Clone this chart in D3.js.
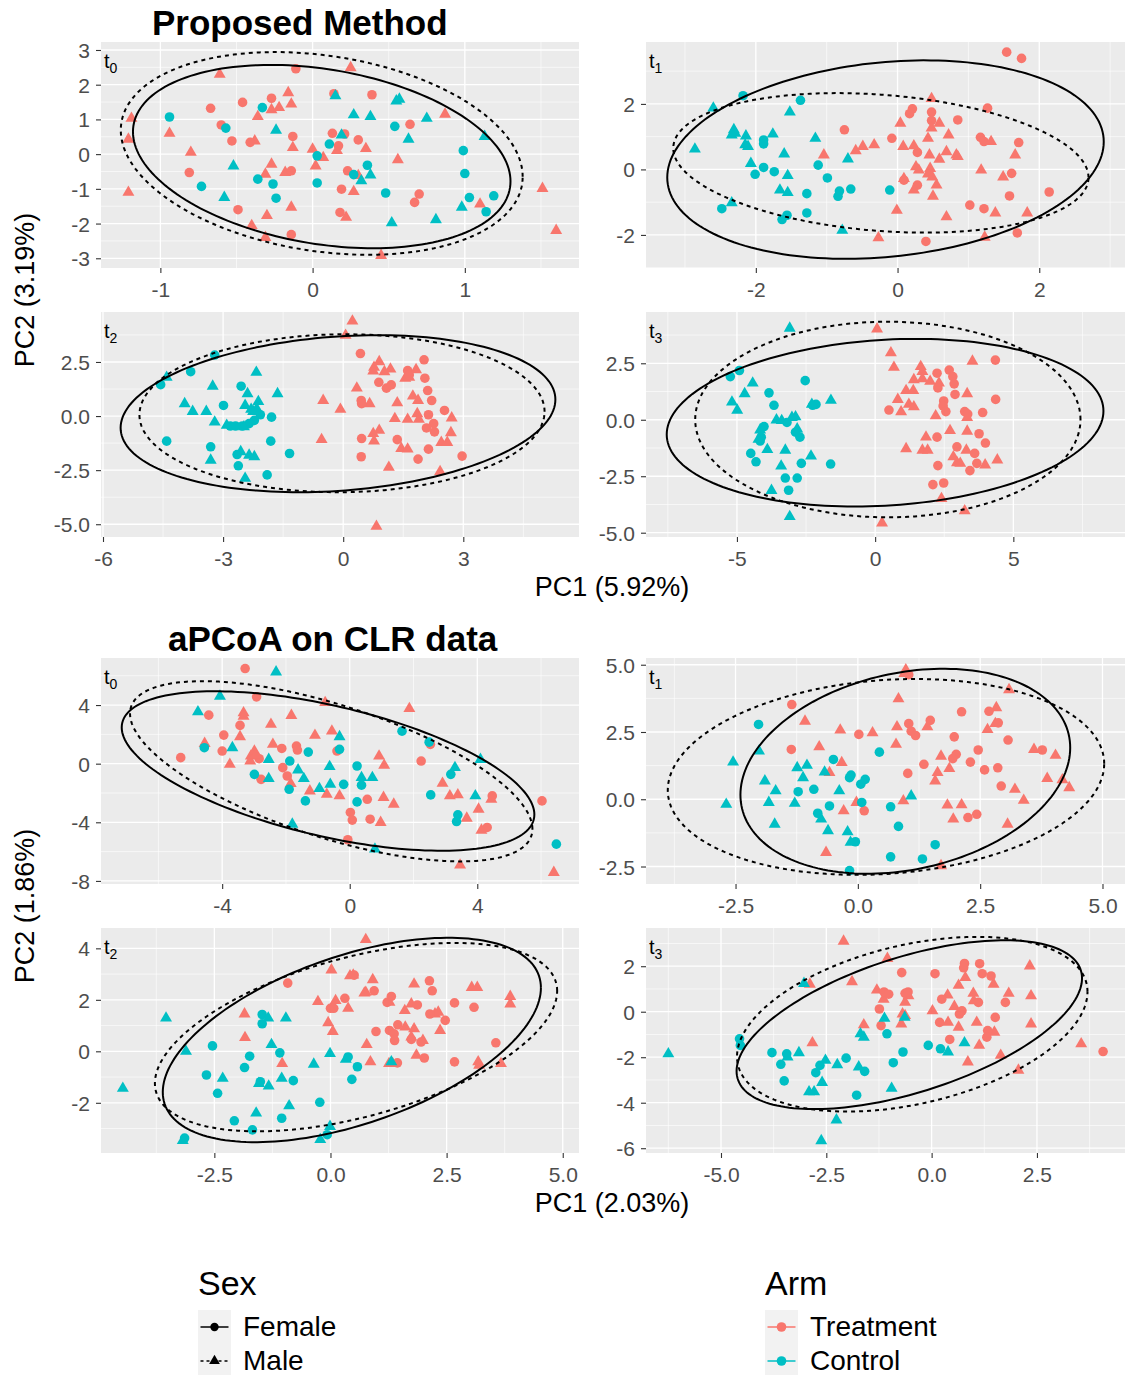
<!DOCTYPE html>
<html>
<head>
<meta charset="utf-8">
<script src="https://cdn.jsdelivr.net/npm/d3@7"></script>
<style>
  body { margin: 0; background: #fff; }
  text { font-family: "Liberation Sans", Arial, sans-serif; }
</style>
</head>
<body>
<svg id="chart" width="1127" height="1375"></svg>
<script>
/*************************************************************************/
// data: [PC1, PC2, group]  group = Arm (T/C) + Sex (F/M)

const pmT0 = [
  [0.25,2.49,'TM'],[-0.61,2.30,'TM'],[-1.19,1.03,'TM'],[-1.21,0.43,'TM'],[-1.21,-1.10,'TM'],[-0.94,0.60,'TM'],[-0.80,0.05,'TM'],
  [-0.36,1.08,'TM'],[-0.38,0.38,'TM'],[-0.27,1.28,'TM'],[-0.22,1.34,'TM'],[-0.16,1.77,'TM'],[-0.14,1.44,'TM'],[-0.13,0.19,'TM'],
  [-0.27,-0.29,'TM'],[-0.31,-0.58,'TM'],[-0.18,-0.53,'TM'],[0.02,-0.34,'TM'],[0.07,-0.10,'TM'],[0.00,0.14,'TM'],[0.16,0.10,'TM'],
  [0.35,0.16,'TM'],[0.27,-1.08,'TM'],[-0.14,-1.53,'TM'],[-0.30,-1.77,'TM'],[-0.40,-2.06,'TM'],[-0.31,-2.40,'TM'],[0.22,-1.82,'TM'],
  [0.45,-2.92,'TM'],[0.56,-0.16,'TM'],[0.87,1.15,'TM'],[1.10,-1.44,'TM'],[1.51,-0.99,'TM'],[1.60,-2.20,'TM'],[0.30,-0.62,'TM'],
  [-0.11,2.46,'TF'],[-0.67,1.32,'TF'],[-0.46,1.49,'TF'],[-0.27,1.61,'TF'],[-0.60,0.84,'TF'],[-0.53,0.38,'TF'],[-0.41,0.34,'TF'],
  [-0.13,0.51,'TF'],[0.14,1.74,'TF'],[0.39,1.71,'TF'],[0.13,0.60,'TF'],[0.21,0.58,'TF'],[0.17,0.24,'TF'],[0.30,0.41,'TF'],
  [0.64,0.86,'TF'],[-0.81,-0.53,'TF'],[-0.14,-0.48,'TF'],[0.23,-0.48,'TF'],[0.19,-1.01,'TF'],[0.70,-1.15,'TF'],[0.67,-1.39,'TF'],
  [-0.49,-1.60,'TF'],[0.18,-1.68,'TF'],[-0.14,-2.32,'TF'],
  [-0.94,1.07,'CF'],[-0.33,1.34,'CF'],[-0.57,0.75,'CF'],[-0.36,-0.72,'CF'],[-0.73,-0.93,'CF'],[-0.26,-0.86,'CF'],[-0.24,-1.27,'CF'],
  [0.03,-0.05,'CF'],[0.03,-0.83,'CF'],[0.11,0.29,'CF'],[0.27,-0.59,'CF'],[0.36,-0.32,'CF'],[0.54,0.80,'CF'],[0.48,-1.12,'CF'],
  [0.99,0.10,'CF'],[1.00,-0.56,'CF'],[1.03,-1.25,'CF'],[1.19,-1.20,'CF'],[1.14,-1.66,'CF'],
  [0.15,1.68,'CM'],[0.55,1.53,'CM'],[0.57,1.58,'CM'],[0.27,1.13,'CM'],[0.38,1.08,'CM'],[0.75,1.03,'CM'],[-0.24,0.69,'CM'],
  [0.19,0.55,'CM'],[0.63,0.43,'CM'],[1.13,0.51,'CM'],[-0.52,-0.34,'CM'],[0.38,-0.60,'CM'],[0.32,-0.77,'CM'],[-0.58,-1.25,'CM'],
  [0.98,-1.53,'CM'],[0.52,-1.98,'CM'],[0.81,-1.89,'CM']
];

const pmT1 = [
  [1.54,3.58,'TF'],[1.75,3.39,'TF'],[-0.75,1.21,'TF'],[-0.08,0.95,'TF'],[0.21,1.85,'TF'],[0.17,1.70,'TF'],[0.48,1.75,'TF'],
  [0.48,1.49,'TF'],[0.85,1.51,'TF'],[1.27,1.87,'TF'],[1.17,0.98,'TF'],[1.22,0.85,'TF'],[1.71,0.82,'TF'],[0.28,0.52,'TF'],
  [1.61,-0.12,'TF'],[0.28,-0.48,'TF'],[0.09,-0.33,'TF'],[1.58,-0.81,'TF'],[1.02,-1.09,'TF'],[1.22,-1.20,'TF'],[2.14,-0.69,'TF'],
  [1.69,-1.94,'TF'],[0.40,-2.20,'TF'],
  [0.48,2.16,'TM'],[0.04,1.41,'TM'],[0.59,1.41,'TM'],[0.48,1.26,'TM'],[0.43,0.95,'TM'],[0.72,1.05,'TM'],[-1.04,0.44,'TM'],
  [-0.59,0.57,'TM'],[-0.49,0.70,'TM'],[-0.33,0.75,'TM'],[0.08,0.70,'TM'],[0.23,0.72,'TM'],[0.45,0.44,'TM'],[0.59,0.31,'TM'],
  [0.69,0.54,'TM'],[0.83,0.44,'TM'],[0.85,0.39,'TM'],[0.26,0.08,'TM'],[0.30,-0.02,'TM'],[0.46,0.03,'TM'],[0.43,-0.14,'TM'],
  [0.49,-0.23,'TM'],[0.09,-0.28,'TM'],[0.55,-0.48,'TM'],[0.23,-0.63,'TM'],[0.50,-0.82,'TM'],[-0.01,-1.25,'TM'],[0.69,-1.45,'TM'],
  [1.18,-0.02,'TM'],[1.49,-0.23,'TM'],[1.66,0.44,'TM'],[1.32,0.85,'TM'],[1.38,-1.33,'TM'],[1.83,-1.33,'TM'],[-0.27,-2.09,'TM'],
  [1.23,-2.07,'TM'],
  [-2.18,2.25,'CF'],[-1.37,2.11,'CF'],[-1.89,0.90,'CF'],[-1.89,0.78,'CF'],[-1.89,0.06,'CF'],[-2.01,-0.15,'CF'],[-1.74,-0.07,'CF'],
  [-1.12,0.13,'CF'],[-0.99,-0.26,'CF'],[-0.66,-0.60,'CF'],[-0.82,-0.66,'CF'],[-0.84,-0.82,'CF'],[-1.28,-0.74,'CF'],[-1.28,-1.33,'CF'],
  [-1.56,-1.40,'CF'],[-1.63,-1.53,'CF'],[-2.48,-1.20,'CF'],[-0.11,-0.63,'CF'],
  [-2.60,1.87,'CM'],[-2.86,0.62,'CM'],[-2.31,1.21,'CM'],[-2.29,1.10,'CM'],[-2.34,1.05,'CM'],[-2.14,1.02,'CM'],[-2.15,0.75,'CM'],
  [-2.11,0.70,'CM'],[-1.76,1.08,'CM'],[-1.52,1.75,'CM'],[-1.16,0.95,'CM'],[-1.60,0.47,'CM'],[-2.07,0.18,'CM'],[-0.70,0.32,'CM'],
  [-1.55,-0.19,'CM'],[-1.66,-0.63,'CM'],[-1.55,-0.71,'CM'],[-2.34,-1.02,'CM'],[-0.78,-1.86,'CM']
];

const pmT2 = [
  [-3.21,2.82,'CF'],[-3.81,2.05,'CF'],[-4.56,1.45,'CF'],[-4.41,-1.16,'CF'],[-2.99,0.49,'CF'],[-2.55,1.38,'CF'],[-3.31,-1.42,'CF'],
  [-1.79,-0.05,'CF'],[-1.81,-1.16,'CF'],[-1.34,-1.73,'CF'],[-2.65,-1.78,'CF'],[-2.62,-2.30,'CF'],[-1.90,-2.72,'CF'],[-2.07,0.06,'CF'],
  [-2.22,-0.20,'CF'],[-2.35,-0.35,'CF'],[-2.52,-0.46,'CF'],[-2.69,-0.46,'CF'],[-2.82,-0.46,'CF'],
  [-4.41,1.79,'CM'],[-3.96,0.57,'CM'],[-3.76,0.21,'CM'],[-3.42,0.21,'CM'],[-3.26,1.38,'CM'],[-3.21,-0.28,'CM'],[-2.91,-0.43,'CM'],
  [-2.48,-0.50,'CM'],[-2.45,0.49,'CM'],[-2.39,1.03,'CM'],[-2.17,2.02,'CM'],[-2.16,0.34,'CM'],[-2.12,0.67,'CM'],[-2.30,0.31,'CM'],
  [-1.64,1.03,'CM'],[-3.31,-2.04,'CM'],[-2.56,-1.65,'CM'],[-2.35,-1.81,'CM'],[-2.22,-1.88,'CM'],[-2.45,-2.88,'CM'],[-2.25,0.21,'CM'],
  [0.23,4.39,'TM'],[0.06,3.73,'TM'],[-0.50,0.72,'TM'],[-0.07,0.31,'TM'],[-0.54,-1.09,'TM'],[0.34,1.29,'TM'],[0.77,2.25,'TM'],
  [0.90,2.51,'TM'],[0.75,2.08,'TM'],[1.18,2.17,'TM'],[1.03,2.05,'TM'],[0.66,0.57,'TM'],[1.35,0.61,'TM'],[1.29,-0.12,'TM'],
  [0.90,-0.66,'TM'],[0.75,-0.81,'TM'],[0.77,-1.16,'TM'],[1.45,-1.50,'TM'],[1.61,-1.53,'TM'],[1.61,-0.15,'TM'],[1.74,0.92,'TM'],
  [1.87,0.72,'TM'],[1.55,1.75,'TM'],[1.65,1.79,'TM'],[1.82,2.14,'TM'],[1.85,0.11,'TM'],[1.89,-0.15,'TM'],[1.14,-2.37,'TM'],
  [2.45,-1.22,'TM'],[2.60,-1.22,'TM'],[2.69,-0.77,'TM'],[2.71,-0.09,'TM'],[2.42,-2.57,'TM'],[0.83,-5.10,'TM'],
  [0.43,2.89,'TF'],[0.45,0.72,'TF'],[0.46,0.57,'TF'],[0.89,1.56,'TF'],[1.08,1.29,'TF'],[1.20,1.44,'TF'],[1.61,2.10,'TF'],
  [1.65,1.90,'TF'],[2.02,2.60,'TF'],[2.04,1.75,'TF'],[2.11,1.18,'TF'],[2.21,0.72,'TF'],[2.13,0.06,'TF'],[2.26,-0.35,'TF'],
  [2.28,-0.73,'TF'],[2.08,-0.55,'TF'],[2.53,0.26,'TF'],[1.35,-1.09,'TF'],[2.13,-1.53,'TF'],[1.87,-1.99,'TF'],[0.46,-1.04,'TF'],
  [0.45,-1.88,'TF'],[2.97,-1.85,'TF']
];

const pmT3 = [
  [-5.24,1.91,'CF'],[-4.91,2.18,'CF'],[-3.84,1.19,'CF'],[-3.66,0.64,'CF'],[-2.53,1.73,'CF'],[-2.14,0.68,'CF'],[-2.26,0.64,'CF'],
  [-4.02,-0.30,'CF'],[-4.12,-0.77,'CF'],[-4.16,-0.94,'CF'],[-4.50,-1.49,'CF'],[-4.31,-1.86,'CF'],[-3.19,-0.12,'CF'],[-2.88,-0.55,'CF'],
  [-2.72,-0.77,'CF'],[-2.67,-1.93,'CF'],[-3.25,-2.58,'CF'],[-2.82,-2.58,'CF'],[-3.13,-3.12,'CF'],[-1.61,-1.96,'CF'],
  [-3.09,4.05,'CM'],[-4.43,1.62,'CM'],[-4.72,1.15,'CM'],[-5.18,0.78,'CM'],[-4.99,0.42,'CM'],[-3.57,-0.01,'CM'],[-3.38,-0.04,'CM'],
  [-3.01,0.10,'CM'],[-2.88,0.13,'CM'],[-4.16,-0.45,'CM'],[-4.22,-0.87,'CM'],[-3.90,-1.32,'CM'],[-3.25,-1.35,'CM'],[-2.82,-0.41,'CM'],
  [-2.32,-1.61,'CM'],[-3.40,-2.05,'CM'],[-3.75,-3.13,'CM'],[-3.09,-4.29,'CM'],[-1.60,0.86,'CM'],[-2.29,0.68,'CM'],
  [0.07,4.02,'TM'],[0.57,2.96,'TM'],[0.68,2.32,'TM'],[1.65,2.35,'TM'],[1.71,2.13,'TM'],[1.40,1.77,'TM'],[1.71,1.81,'TM'],
  [1.99,1.70,'TM'],[2.31,1.62,'TM'],[1.12,1.29,'TM'],[1.38,1.29,'TM'],[0.82,0.90,'TM'],[1.22,0.68,'TM'],[1.40,0.57,'TM'],
  [0.94,0.35,'TM'],[2.19,0.17,'TM'],[3.33,1.15,'TM'],[3.52,2.59,'TM'],[3.33,0.10,'TM'],[2.71,-0.48,'TM'],[3.33,-0.51,'TM'],
  [1.84,-0.77,'TM'],[1.71,-1.35,'TM'],[1.90,-1.35,'TM'],[1.12,-1.28,'TM'],[3.30,-1.35,'TM'],[2.83,-1.64,'TM'],[2.96,-1.90,'TM'],
  [3.08,-1.93,'TM'],[3.98,-2.00,'TM'],[4.42,-1.78,'TM'],[2.40,-3.49,'TM'],[3.24,-4.03,'TM'],[0.25,-4.57,'TM'],
  [2.68,2.20,'TF'],[2.81,1.91,'TF'],[2.86,1.59,'TF'],[2.24,2.06,'TF'],[2.27,1.41,'TF'],[4.35,2.64,'TF'],[4.36,0.90,'TF'],
  [2.89,1.12,'TF'],[2.48,0.83,'TF'],[2.46,0.61,'TF'],[2.56,0.36,'TF'],[3.24,0.36,'TF'],[3.35,0.25,'TF'],[3.89,0.32,'TF'],
  [0.50,0.43,'TF'],[2.24,-0.77,'TF'],[2.96,-1.20,'TF'],[3.76,-0.62,'TF'],[3.99,-1.03,'TF'],[3.60,-1.49,'TF'],[3.68,-1.93,'TF'],
  [3.43,-2.25,'TF'],[2.27,-2.03,'TF'],[2.09,-2.87,'TF'],[2.48,-2.80,'TF']
];

const clrT0 = [
  [-3.28,6.49,'TF'],[-2.92,4.56,'TF'],[-4.42,3.31,'TF'],[-5.30,0.41,'TF'],[-3.95,1.95,'TF'],[-4.00,0.86,'TF'],[-3.44,2.61,'TF'],
  [-2.84,0.34,'TF'],[-2.78,-1.07,'TF'],[-2.13,1.04,'TF'],[-2.10,-0.27,'TF'],[-1.67,1.20,'TF'],[-1.64,0.93,'TF'],[-1.96,-0.84,'TF'],
  [-0.40,0.86,'TF'],[0.02,-3.33,'TF'],[0.08,-3.85,'TF'],[-0.06,-5.19,'TF'],[0.55,-2.43,'TF'],[0.64,-3.79,'TF'],[2.24,0.18,'TF'],
  [2.53,1.32,'TF'],[4.47,-2.20,'TF'],[4.31,-4.35,'TF'],[6.03,-2.54,'TF'],
  [-0.77,4.17,'TM'],[1.87,3.76,'TM'],[-3.33,3.47,'TM'],[-3.33,3.24,'TM'],[-4.55,1.38,'TM'],[-3.44,1.84,'TM'],[-2.47,2.68,'TM'],
  [-1.83,3.29,'TM'],[-2.41,1.32,'TM'],[-3.76,-0.05,'TM'],[-3.10,0.52,'TM'],[-2.99,0.86,'TM'],[-3.12,0.18,'TM'],[-2.96,0.57,'TM'],
  [-1.09,1.93,'TM'],[-0.56,2.22,'TM'],[-1.85,-1.36,'TM'],[-1.25,-1.86,'TM'],[-0.72,-2.09,'TM'],[-0.32,-2.20,'TM'],[0.92,0.52,'TM'],
  [1.08,-0.11,'TM'],[1.06,-2.31,'TM'],[1.38,-2.77,'TM'],[0.97,-4.01,'TM'],[2.91,-1.34,'TM'],[3.14,-2.20,'TM'],[3.39,-2.13,'TM'],
  [3.67,-3.72,'TM'],[4.04,-3.11,'TM'],[4.13,-4.54,'TM'],[4.44,-2.43,'TM'],[3.46,-6.92,'TM'],[6.40,-7.42,'TM'],
  [-4.56,1.09,'CF'],[-2.99,-0.73,'CF'],[-1.88,0.18,'CF'],[-1.90,-1.75,'CF'],[-1.30,0.79,'CF'],[-1.39,-2.54,'CF'],[-0.32,0.98,'CF'],
  [0.23,-0.16,'CF'],[-0.19,-1.41,'CF'],[0.37,-1.47,'CF'],[0.23,-2.61,'CF'],[1.64,2.22,'CF'],[2.49,1.47,'CF'],[2.54,-2.13,'CF'],
  [3.17,-0.73,'CF'],[3.39,-3.49,'CF'],[3.35,-3.95,'CF'],[6.48,-5.49,'CF'],
  [-2.31,6.26,'CM'],[-4.07,4.60,'CM'],[-4.76,3.54,'CM'],[-3.68,1.09,'CM'],[-2.54,0.29,'CM'],[-2.54,-1.02,'CM'],[-1.62,-0.43,'CM'],
  [-1.44,-1.02,'CM'],[-0.95,-1.70,'CM'],[-0.63,-0.20,'CM'],[-0.61,-1.41,'CM'],[-0.32,1.84,'CM'],[0.37,-0.95,'CM'],[0.71,-0.95,'CM'],
  [3.30,-0.27,'CM'],[4.10,0.29,'CM'],[3.94,-2.20,'CM'],[-1.80,-4.13,'CM'],[0.79,-5.83,'CM']
];

const clrT1 = [
  [0.98,4.81,'TM'],[0.95,4.67,'TM'],[3.09,4.07,'TM'],[0.83,3.73,'TM'],[-1.08,2.90,'TM'],[-0.36,2.57,'TM'],[0.30,2.47,'TM'],
  [0.80,2.69,'TM'],[-0.79,1.95,'TM'],[0.78,2.04,'TM'],[1.42,2.69,'TM'],[2.83,3.40,'TM'],[2.65,2.59,'TM'],[2.81,2.81,'TM'],
  [-0.33,1.36,'TM'],[-0.58,0.99,'TM'],[1.70,1.60,'TM'],[1.87,1.14,'TM'],[1.63,0.99,'TM'],[1.58,0.68,'TM'],[3.60,1.85,'TM'],
  [4.04,1.63,'TM'],[3.87,0.77,'TM'],[4.18,0.72,'TM'],[4.32,0.43,'TM'],[3.21,0.37,'TM'],[3.39,-0.04,'TM'],[0.93,-0.06,'TM'],
  [-0.03,-0.12,'TM'],[-0.29,-0.43,'TM'],[1.83,-0.22,'TM'],[2.12,-0.21,'TM'],[1.95,-0.74,'TM'],[3.06,-0.93,'TM'],[-0.65,-1.98,'TM'],
  [1.70,-2.47,'TM'],
  [1.04,4.63,'TF'],[-1.35,3.52,'TF'],[-1.36,1.85,'TF'],[0.02,2.41,'TF'],[1.04,2.81,'TF'],[1.09,2.53,'TF'],[1.18,2.37,'TF'],
  [1.48,2.93,'TF'],[2.12,3.25,'TF'],[2.68,3.27,'TF'],[2.87,2.84,'TF'],[1.97,2.32,'TF'],[3.07,2.20,'TF'],[2.46,1.83,'TF'],
  [2.01,1.67,'TF'],[1.94,1.51,'TF'],[1.35,1.30,'TF'],[2.30,1.38,'TF'],[2.59,1.09,'TF'],[2.86,1.17,'TF'],[1.02,0.96,'TF'],
  [3.77,1.83,'TF'],[2.93,0.49,'TF'],[2.25,-0.68,'TF'],[2.43,-0.56,'TF'],[0.13,-0.43,'TF'],
  [-2.03,2.78,'CF'],[0.44,1.75,'CF'],[-0.50,1.48,'CF'],[-0.90,0.37,'CF'],[-1.22,0.28,'CF'],[-0.14,0.90,'CF'],[-0.17,0.80,'CF'],
  [0.15,0.74,'CF'],[0.06,0.56,'CF'],[-0.58,-0.25,'CF'],[-0.82,-0.52,'CF'],[0.08,-0.12,'CF'],[0.67,-0.28,'CF'],[0.83,-1.01,'CF'],
  [-0.05,-1.58,'CF'],[1.58,-1.69,'CF'],[0.67,-2.14,'CF'],[1.32,-2.22,'CF'],[-0.17,-2.65,'CF'],
  [-2.55,1.38,'CM'],[-2.02,1.79,'CM'],[-2.69,-0.19,'CM'],[-1.90,0.68,'CM'],[-1.68,0.31,'CM'],[-1.82,-0.12,'CM'],[-1.70,-0.93,'CM'],
  [-1.24,1.17,'CM'],[-1.04,1.26,'CM'],[-1.12,0.80,'CM'],[-1.29,-0.15,'CM'],[-0.68,1.01,'CM'],[-0.38,0.31,'CM'],[-0.75,-0.74,'CM'],
  [-0.61,-1.17,'CM'],[-0.21,-1.21,'CM'],[-0.15,-1.60,'CM'],[1.09,0.12,'CM']
];

const clrT2 = [
  [0.76,4.34,'TM'],[0.02,3.16,'TM'],[0.42,2.93,'TM'],[0.49,2.96,'TM'],[0.91,2.78,'TM'],[0.73,2.26,'TM'],[0.76,2.29,'TM'],
  [0.11,1.97,'TM'],[-0.27,1.93,'TM'],[0.38,1.67,'TM'],[-1.85,1.45,'TM'],[-1.84,0.53,'TM'],[-0.05,1.11,'TM'],[0.05,0.77,'TM'],
  [-1.04,-0.48,'TM'],[0.78,0.26,'TM'],[0.86,-0.41,'TM'],[1.26,-0.48,'TM'],[1.27,1.90,'TM'],[1.80,2.61,'TM'],[1.74,1.84,'TM'],
  [1.60,1.58,'TM'],[1.61,0.94,'TM'],[1.80,0.87,'TM'],[1.74,0.55,'TM'],[1.99,0.42,'TM'],[1.85,-0.15,'TM'],[2.25,1.45,'TM'],
  [2.32,1.52,'TM'],[2.36,0.81,'TM'],[3.04,2.48,'TM'],[3.16,2.48,'TM'],[3.87,2.13,'TM'],[3.87,1.84,'TM'],[3.18,-0.41,'TM'],
  [3.20,-0.54,'TM'],[3.67,-0.48,'TM'],[1.34,-0.48,'TM'],
  [-0.92,2.65,'TF'],[0.51,2.96,'TF'],[0.31,2.06,'TF'],[0.00,1.67,'TF'],[0.07,1.67,'TF'],[0.94,2.35,'TF'],[1.22,1.90,'TF'],
  [1.31,2.13,'TF'],[1.45,1.03,'TF'],[1.27,0.81,'TF'],[1.37,0.68,'TF'],[1.38,0.42,'TF'],[0.98,0.77,'TF'],[1.74,0.46,'TF'],
  [1.95,0.36,'TF'],[2.02,-0.26,'TF'],[2.13,2.74,'TF'],[2.19,2.35,'TF'],[2.14,1.45,'TF'],[2.47,1.20,'TF'],[2.67,1.88,'TF'],
  [3.09,1.71,'TF'],[2.67,-0.41,'TF'],[3.56,0.33,'TF'],[1.44,-0.45,'TF'],[1.87,1.80,'TF'],
  [-1.47,1.43,'CF'],[-1.47,1.07,'CF'],[-2.54,0.21,'CF'],[-1.74,-0.19,'CF'],[-1.85,-0.63,'CF'],[-1.09,-0.06,'CF'],[-2.67,-0.92,'CF'],
  [-2.43,-1.63,'CF'],[-1.51,-1.18,'CF'],[-0.80,-1.14,'CF'],[-0.23,-1.98,'CF'],[-1.05,-2.60,'CF'],[-2.07,-2.70,'CF'],[-1.68,-3.05,'CF'],
  [-3.14,-3.37,'CF'],[0.38,-0.22,'CF'],[0.58,-0.60,'CF'],[0.46,-1.09,'CF'],[-0.07,-3.24,'CF'],
  [-3.54,1.29,'CM'],[-3.11,0.00,'CM'],[-4.47,-1.44,'CM'],[-1.34,1.29,'CM'],[-0.96,1.29,'CM'],[-1.27,0.26,'CM'],[-2.32,-1.05,'CM'],
  [-1.54,-1.25,'CM'],[-1.33,-1.35,'CM'],[-1.05,-1.05,'CM'],[-0.36,-0.50,'CM'],[-0.01,-0.09,'CM'],[0.33,-0.31,'CM'],[1.31,-0.41,'CM'],
  [-0.89,-2.12,'CM'],[-1.60,-2.40,'CM'],[-0.01,-2.92,'CM'],[-0.22,-3.43,'CM'],[-3.18,-3.47,'CM']
];

const clrT3 = [
  [-2.09,3.10,'TM'],[-1.05,2.34,'TM'],[-1.89,1.32,'TM'],[-2.89,1.21,'TM'],[-1.30,0.95,'TM'],[-1.14,0.55,'TM'],[-0.55,0.70,'TM'],
  [-0.63,0.41,'TM'],[-0.69,-0.10,'TM'],[-0.63,-0.17,'TM'],[-0.72,-0.54,'TM'],[-1.61,-0.58,'TM'],[-2.83,-1.37,'TM'],[0.02,0.04,'TM'],
  [0.38,0.73,'TM'],[0.54,0.23,'TM'],[0.64,1.16,'TM'],[0.80,1.50,'TM'],[0.99,0.81,'TM'],[1.00,0.48,'TM'],[0.64,-0.68,'TM'],
  [0.39,-0.47,'TM'],[1.07,-0.47,'TM'],[1.13,-1.48,'TM'],[0.86,-2.21,'TM'],[1.47,1.21,'TM'],[1.49,-0.90,'TM'],[1.64,-1.92,'TM'],
  [1.83,0.81,'TM'],[2.33,2.01,'TM'],[2.36,0.70,'TM'],[2.36,-0.54,'TM'],[2.06,-2.57,'TM'],[3.55,-1.41,'TM'],
  [-0.71,1.72,'TF'],[-1.13,0.87,'TF'],[-1.02,0.77,'TF'],[-1.24,0.12,'TF'],[-1.20,-0.61,'TF'],[-0.63,0.81,'TF'],[-0.56,0.87,'TF'],
  [0.08,1.67,'TF'],[0.78,2.12,'TF'],[0.76,1.93,'TF'],[1.14,2.11,'TF'],[1.20,1.67,'TF'],[1.41,1.57,'TF'],[0.24,0.55,'TF'],
  [0.19,-0.47,'TF'],[0.72,0.04,'TF'],[0.66,-0.10,'TF'],[1.11,0.41,'TF'],[1.75,0.41,'TF'],[1.51,-0.25,'TF'],[1.33,-0.83,'TF'],
  [1.31,-1.12,'TF'],[0.43,-1.22,'TF'],[4.07,-1.75,'TF'],
  [-4.56,-1.19,'CF'],[-4.54,-1.48,'CF'],[-3.79,-1.80,'CF'],[-3.58,-2.31,'CF'],[-3.44,-1.85,'CF'],[-3.50,-3.04,'CF'],[-2.75,-2.68,'CF'],
  [-2.65,-2.36,'CF'],[-2.03,-2.04,'CF'],[-1.78,-3.67,'CF'],[-1.59,-2.62,'CF'],[-1.06,-0.97,'CF'],[-0.91,-2.24,'CF'],[-0.68,-1.77,'CF'],
  [-0.08,-1.48,'CF'],[0.21,-1.63,'CF'],
  [-6.25,-1.85,'CM'],[-3.03,1.24,'CM'],[-3.42,-1.99,'CM'],[-3.15,-1.80,'CM'],[-2.52,-2.14,'CM'],[-2.91,-3.52,'CM'],[-2.79,-3.52,'CM'],
  [-2.60,-3.11,'CM'],[-2.24,-2.33,'CM'],[-2.26,-4.76,'CM'],[-2.62,-5.67,'CM'],[-1.73,-2.43,'CM'],[-1.69,-0.97,'CM'],[-1.61,-1.12,'CM'],
  [-1.12,-0.29,'CM'],[-0.95,-3.37,'CM'],[-0.64,-0.25,'CM'],[0.39,-1.77,'CM'],[0.78,-1.37,'CM']
];

// ellipses by Sex: [centre x, centre y, half-width x, half-height y, correlation]
const pmEllF  = [[0.06,-0.07,1.24,2.64,-0.27],[-0.17,0.30,3.08,3.03,0.18],[-0.13,0.11,5.43,3.63,0.18],[0.36,-0.13,7.90,3.71,0.14]];
const pmEllM  = [[0.06,0.02,1.32,2.92,-0.23],[-0.235,0.20,2.93,2.13,-0.21],[-0.03,0.13,5.06,3.65,0.02],[0.46,0.01,6.97,4.33,0.0]];
const clrEllF = [[-0.68,-0.50,6.47,5.44,-0.546],[0.97,1.04,3.37,3.81,0.23],[0.46,0.44,4.07,3.97,0.51],[-0.53,-0.57,4.10,3.71,0.55]];
const clrEllM = [[-0.58,-0.52,6.31,6.15,-0.64],[0.575,0.83,4.46,3.64,0.135],[0.55,0.55,4.33,3.66,0.49],[-0.46,-0.55,4.16,3.84,0.37]];

// axis limits and ticks
const pmXDom  = [[-1.39,1.75],[-3.55,3.21],[-6.05,5.89],[-8.29,9.04]];
const pmYDom  = [[-3.28,3.23],[-3.01,3.89],[-5.59,4.81],[-5.19,4.77]];
const clrXDom = [[-7.8,7.19],[-4.33,5.46],[-4.94,5.35],[-6.78,4.59]];
const clrYDom = [[-8.21,7.21],[-3.15,5.25],[-3.95,4.79],[-6.21,3.68]];

const pmXTicks  = [['-1','0','1'],['-2','0','2'],['-6','-3','0','3'],['-5','0','5']];
const pmYTicks  = [['-3','-2','-1','0','1','2','3'],['-2','0','2'],['-5.0','-2.5','0.0','2.5'],['-5.0','-2.5','0.0','2.5']];
const clrXTicks = [['-4','0','4'],['-2.5','0.0','2.5','5.0'],['-2.5','0.0','2.5','5.0'],['-5.0','-2.5','0.0','2.5']];
const clrYTicks = [['-8','-4','0','4'],['-2.5','0.0','2.5','5.0'],['-2','0','2','4'],['-6','-4','-2','0','2']];

const timeLabels = ['0','1','2','3'];
const sexLevels = ['Female','Male'];
const armLevels = ['Treatment','Control'];

/*************************************************************************/

const svg = d3.select('#chart');
const armColor = { T: '#F8766D', C: '#00BFC4' };
const cols = [[101,579],[646,1125]];
let clipId = 0;

function minorBreaks(major, dom){
    const step = major[1] - major[0];
    const out = [major[0] - step/2].concat(major.map(d => d + step/2));
    return out.filter(d => d > dom[0] && d < dom[1]);
}

function ellipsePoints(e){
    const [cx, cy, hx, hy, r] = e;
    return d3.range(0, 2*Math.PI + 0.001, Math.PI/90).map(t => [
        cx + hx*Math.cos(t),
        cy + hy*(r*Math.cos(t) + Math.sqrt(1 - r*r)*Math.sin(t))
    ]);
}

function drawPanel(box, pts, xdom, ydom, xt, yt, ellF, ellM, tlab){
    const [x0, x1, y0, y1] = box;
    const x = d3.scaleLinear().domain(xdom).range([x0, x1]);
    const y = d3.scaleLinear().domain(ydom).range([y1, y0]);
    const xv = xt.map(Number), yv = yt.map(Number);
    const g = svg.append('g');

    g.append('rect')
        .attr('x', x0).attr('y', y0).attr('width', x1 - x0).attr('height', y1 - y0)
        .attr('fill', '#EBEBEB');

    // grid
    g.selectAll('.vmin').data(minorBreaks(xv, xdom)).enter().append('line')
        .attr('x1', d => x(d)).attr('x2', d => x(d)).attr('y1', y0).attr('y2', y1)
        .attr('stroke', '#fff').attr('stroke-width', 0.6);
    g.selectAll('.hmin').data(minorBreaks(yv, ydom)).enter().append('line')
        .attr('y1', d => y(d)).attr('y2', d => y(d)).attr('x1', x0).attr('x2', x1)
        .attr('stroke', '#fff').attr('stroke-width', 0.6);
    g.selectAll('.vmaj').data(xv).enter().append('line')
        .attr('x1', d => x(d)).attr('x2', d => x(d)).attr('y1', y0).attr('y2', y1)
        .attr('stroke', '#fff').attr('stroke-width', 1.3);
    g.selectAll('.hmaj').data(yv).enter().append('line')
        .attr('y1', d => y(d)).attr('y2', d => y(d)).attr('x1', x0).attr('x2', x1)
        .attr('stroke', '#fff').attr('stroke-width', 1.3);

    // axes
    const ax = g.append('g').attr('transform', `translate(0,${y1})`)
        .call(d3.axisBottom(x).tickValues(xv).tickFormat((d, i) => xt[i]).tickSize(5).tickPadding(9));
    const ay = g.append('g').attr('transform', `translate(${x0},0)`)
        .call(d3.axisLeft(y).tickValues(yv).tickFormat((d, i) => yt[i]).tickSize(5).tickPadding(6));
    [ax, ay].forEach(a => {
        a.select('.domain').remove();
        a.selectAll('line').attr('stroke', '#333333').attr('stroke-width', 1.1);
        a.selectAll('text').attr('fill', '#4D4D4D').style('font-size', '21px')
            .style('font-family', '"Liberation Sans", Arial, sans-serif');
    });
    ay.selectAll('text').attr('dy', '0.36em');

    // clip
    const id = 'clip' + (clipId++);
    g.append('clipPath').attr('id', id).append('rect')
        .attr('x', x0).attr('y', y0).attr('width', x1 - x0).attr('height', y1 - y0);
    const inner = g.append('g').attr('clip-path', `url(#${id})`);

    // points
    const tri = d3.symbol().type(d3.symbolTriangle).size(62);
    inner.selectAll('.pt').data(pts).enter()
        .each(function(d){
            const sel = d3.select(this);
            const col = armColor[d[2][0]];
            if (d[2][1] === 'F'){
                sel.append('circle').attr('cx', x(d[0])).attr('cy', y(d[1])).attr('r', 4.8).attr('fill', col);
            } else {
                sel.append('path').attr('d', tri()).attr('fill', col)
                    .attr('transform', `translate(${x(d[0])},${y(d[1])})`);
            }
        });

    // ellipses
    const line = d3.line().x(d => x(d[0])).y(d => y(d[1]));
    inner.append('path').attr('d', line(ellipsePoints(ellF)))
        .attr('fill', 'none').attr('stroke', '#000').attr('stroke-width', 2);
    inner.append('path').attr('d', line(ellipsePoints(ellM)))
        .attr('fill', 'none').attr('stroke', '#000').attr('stroke-width', 2)
        .attr('stroke-dasharray', '4 4');

    // time label
    const t = g.append('text').attr('x', x0 + 3).attr('y', y0 + 26)
        .attr('fill', '#000').style('font-size', '20px').text('t');
    t.append('tspan').attr('dy', 5).style('font-size', '14px').text(tlab);
}

function drawFigure(offset, title, titleX, data, ells, doms, ticks, xlab, ylab){
    const rows = [[42 + offset, 268 + offset], [312 + offset, 537 + offset]];
    data.forEach((pts, i) => {
        const c = cols[i % 2], r = rows[Math.floor(i / 2)];
        drawPanel([c[0], c[1], r[0], r[1]], pts, doms[0][i], doms[1][i], ticks[0][i], ticks[1][i],
                  ells[0][i], ells[1][i], timeLabels[i]);
    });
    svg.append('text').attr('x', titleX).attr('y', 35 + offset)
        .style('font-size', '35px').style('font-weight', 'bold').attr('fill', '#000').text(title);
    svg.append('text').attr('x', 612).attr('y', 596 + offset).attr('text-anchor', 'middle')
        .style('font-size', '27px').attr('fill', '#000').text(xlab);
    svg.append('text').attr('transform', `translate(34,${290 + offset}) rotate(-90)`)
        .attr('text-anchor', 'middle').style('font-size', '27px').attr('fill', '#000').text(ylab);
}

drawFigure(0, 'Proposed Method', 152, [pmT0, pmT1, pmT2, pmT3], [pmEllF, pmEllM],
           [pmXDom, pmYDom], [pmXTicks, pmYTicks], 'PC1 (5.92%)', 'PC2 (3.19%)');
drawFigure(616, 'aPCoA on CLR data', 168, [clrT0, clrT1, clrT2, clrT3], [clrEllF, clrEllM],
           [clrXDom, clrYDom], [clrXTicks, clrYTicks], 'PC1 (2.03%)', 'PC2 (1.86%)');

/*************************************************************************/
// legends

function drawLegend(x, title, levels, keyFn){
    const lg = svg.append('g');
    lg.append('text').attr('x', x).attr('y', 1295).style('font-size', '34px').attr('fill', '#000').text(title);
    lg.append('rect').attr('x', x).attr('y', 1310).attr('width', 33).attr('height', 68).attr('fill', '#F2F2F2');
    levels.forEach((lab, i) => {
        const cy = 1327 + i*34;
        keyFn(lg, x + 16.5, cy, i);
        lg.append('text').attr('x', x + 45).attr('y', cy + 9).style('font-size', '28px').attr('fill', '#000').text(lab);
    });
}

drawLegend(198, 'Sex', sexLevels, (g, cx, cy, i) => {
    g.append('line').attr('x1', cx - 14).attr('x2', cx + 14).attr('y1', cy).attr('y2', cy)
        .attr('stroke', '#000').attr('stroke-width', 1.5).attr('stroke-dasharray', i ? '3 3' : null);
    if (i === 0) g.append('circle').attr('cx', cx).attr('cy', cy).attr('r', 4.2).attr('fill', '#000');
    else g.append('path').attr('d', d3.symbol().type(d3.symbolTriangle).size(50)())
        .attr('transform', `translate(${cx},${cy})`).attr('fill', '#000');
});

drawLegend(765, 'Arm', armLevels, (g, cx, cy, i) => {
    const col = [armColor.T, armColor.C][i];
    g.append('line').attr('x1', cx - 14).attr('x2', cx + 14).attr('y1', cy).attr('y2', cy)
        .attr('stroke', col).attr('stroke-width', 1.5);
    g.append('circle').attr('cx', cx).attr('cy', cy).attr('r', 4.8).attr('fill', col);
});
</script>
</body>
</html>
